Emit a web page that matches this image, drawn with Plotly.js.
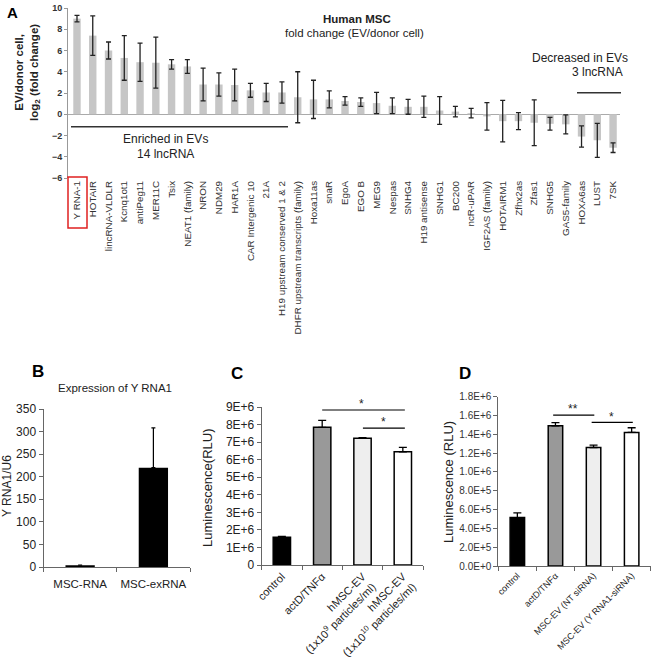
<!DOCTYPE html>
<html><head><meta charset="utf-8">
<script src="https://cdn.plot.ly/plotly-3.0.1.min.js"></script>
<style>html,body{margin:0;padding:0;background:#fff}#chart{width:652px;height:666px}</style>
</head><body><div id="chart"></div>
<script>
// Panel A data
var catsA = ["Y RNA-1","HOTAIR","lincRNA-VLDLR","Kcnq1ot1","antiPeg11","MER11C","Tsix","NEAT1 (family)","NRON","NDM29","HAR1A","CAR Intergenic 10","21A","H19 upstream conserved 1 & 2","DHFR upstream transcripts (family)","Hoxa11as","snaR","EgoA","EGO B","MEG9","Nespas","SNHG4","H19 antisense","SNHG1","BC200","ncR-uPAR","IGF2AS (family)","HOTAIRM1","Zfhx2as","Zfas1","SNHG5","GAS5-family","HOXA6as","LUST","7SK"];
var valsA = [9.0,7.4,6.0,5.3,4.9,4.85,4.7,4.5,2.8,2.8,2.75,2.25,2.05,2.05,1.6,1.4,1.4,1.25,1.15,1.05,0.8,0.7,0.7,0.35,0.25,0.1,-0.2,-0.65,-0.65,-0.8,-0.9,-0.95,-2.1,-2.45,-3.15];
var errA  = [0.3,1.85,0.8,2.1,1.8,2.4,0.45,0.65,1.55,1.1,1.5,0.65,0.85,1.0,2.4,1.8,0.8,0.4,0.4,1.0,0.75,0.7,1.0,1.3,0.5,0.45,1.3,1.95,0.8,2.15,0.6,0.9,1.0,1.6,0.45];
var tickA = [-6,-4,-2,0,2,4,6,8,10];

// Panel B data
var catsB = ["MSC-RNA","MSC-exRNA"];
var valsB = [4,220];
var errB  = [0,88];
var tickB = [0,50,100,150,200,250,300,350];

// Panel C data
var catsC = ["control","actD/TNFα","hMSC-EV<br>(1x10<sup>9</sup> particles/ml)","hMSC-EV<br>(1x10<sup>10</sup> particles/ml)"];
var valsC = [1.58e6,7.84e6,7.22e6,6.45e6];
var errC  = [0.05e6,0.4e6,0.04e6,0.25e6];
var tickC = [0,1e6,2e6,3e6,4e6,5e6,6e6,7e6,8e6,9e6];
var tickTextC = ["0","1E+6","2E+6","3E+6","4E+6","5E+6","6E+6","7E+6","8E+6","9E+6"];

// Panel D data
var catsD = ["control","actD/TNFα","MSC-EV (NT siRNA)","MSC-EV (Y RNA1-siRNA)"];
var valsD = [5.15e5,1.49e6,1.26e6,1.42e6];
var errD  = [0.5e5,0.035e6,0.025e6,0.05e6];
var tickD = [0,2e5,4e5,6e5,8e5,1e6,1.2e6,1.4e6,1.6e6,1.8e6];
var tickTextD = ["0.0E+0","2.0E+5","4.0E+5","6.0E+5","8.0E+5","1.0E+6","1.2E+6","1.4E+6","1.6E+6","1.8E+6"];

var W = 652, H = 666;
function px(x){return x/W;}
function py(y){return 1 - y/H;}
var F = "Arial, 'Liberation Sans', sans-serif";

var traces = [
 {type:'bar', x:catsA, y:valsA, xaxis:'x', yaxis:'y', width:0.47,
  marker:{color:'#c6c6c6'},
  error_y:{type:'data', array:errA, visible:true, color:'#222', thickness:1.3, width:2.5}},
 {type:'bar', x:catsB, y:valsB, xaxis:'x2', yaxis:'y2', width:0.4,
  marker:{color:'#000'},
  error_y:{type:'data', symmetric:false, array:errB, arrayminus:[0,0], visible:true, color:'#000', thickness:1.2, width:2}},
 {type:'bar', x:catsC, y:valsC, xaxis:'x3', yaxis:'y3', width:0.43,
  marker:{color:['#000','#999','#eeeeee','#fff'], line:{color:'#000', width:1.5}},
  error_y:{type:'data', symmetric:false, array:errC, arrayminus:[0,0,0,0], visible:true, color:'#000', thickness:1.3, width:4}},
 {type:'bar', x:catsD, y:valsD, xaxis:'x4', yaxis:'y4', width:0.38,
  marker:{color:['#000','#999','#eeeeee','#fff'], line:{color:'#000', width:1.5}},
  error_y:{type:'data', symmetric:false, array:errD, arrayminus:[0,0,0,0], visible:true, color:'#000', thickness:1.3, width:4}}
];

function ann(x, y, text, size, extra){
  var a = {xref:'paper', yref:'paper', x:px(x), y:py(y), text:text, showarrow:false,
           xanchor:'center', yanchor:'middle', font:{size:size, color:'#222'}};
  if (extra) for (var k in extra) a[k] = extra[k];
  return a;
}

var layout = {
 width:W, height:H, margin:{l:0,r:0,t:0,b:0}, showlegend:false,
 paper_bgcolor:'#fff', plot_bgcolor:'rgba(0,0,0,0)',
 font:{family:F, color:'#222'},
 xaxis:{domain:[px(68),px(620)], anchor:'y', type:'category', range:[-0.57,34.44], showline:false, showgrid:false, zeroline:false,
   ticks:'', tickangle:-90, tickfont:{size:9.8, color:'#333'}, fixedrange:true},
 yaxis:{domain:[py(178),py(8)], anchor:'x', range:[-6,10], tickvals:tickA, showgrid:false, zeroline:true, zerolinecolor:'#aaa', zerolinewidth:1.5,
   showline:true, linecolor:'#999', linewidth:1, ticks:'outside', ticklen:3, tickcolor:'#999', tickfont:{size:9, color:'#333', weight:'bold'}},
 xaxis2:{domain:[px(43.5),px(190)], anchor:'y2', type:'category', range:[-0.5,1.5], showline:true, linecolor:'#666', linewidth:1, showgrid:false,
   ticks:'outside', tickson:'boundaries', ticklen:4, tickcolor:'#666', tickangle:0, ticklabelstandoff:6, tickfont:{size:11.5, color:'#222'}},
 yaxis2:{domain:[py(567),py(409)], anchor:'x2', range:[0,350], tickvals:tickB, showgrid:false, zeroline:false, showline:true, linecolor:'#666', linewidth:1,
   ticks:'outside', ticklen:4, tickcolor:'#666', tickfont:{size:12, color:'#222'}},
 xaxis3:{domain:[px(261.7),px(423)], anchor:'y3', type:'category', range:[-0.5,3.5], showline:true, linecolor:'#666', linewidth:1, showgrid:false,
   ticks:'outside', tickson:'boundaries', ticklen:4, tickcolor:'#666', tickangle:-45, tickfont:{size:11, color:'#222'}},
 yaxis3:{domain:[py(565),py(407)], anchor:'x3', range:[0,9e6], tickvals:tickC, ticktext:tickTextC, showgrid:false, zeroline:false, showline:true, linecolor:'#666', linewidth:1,
   ticks:'outside', ticklen:4, tickcolor:'#666', tickfont:{size:12, color:'#222'}},
 xaxis4:{domain:[px(498.3),px(650.7)], anchor:'y4', type:'category', range:[-0.5,3.5], showline:true, linecolor:'#666', linewidth:1, showgrid:false,
   ticks:'outside', tickson:'boundaries', ticklen:4, tickcolor:'#666', tickangle:-45, tickfont:{size:9, color:'#222'}},
 yaxis4:{domain:[py(566),py(396.7)], anchor:'x4', range:[0,1.8e6], tickvals:tickD, ticktext:tickTextD, showgrid:false, zeroline:false, showline:true, linecolor:'#666', linewidth:1,
   ticks:'outside', ticklen:4, tickcolor:'#666', tickfont:{size:10, color:'#333'}},
 shapes:[
  {type:'line', xref:'paper', yref:'paper', x0:px(71), x1:px(288), y0:py(126.7), y1:py(126.7), line:{color:'#333', width:1.5}},
  {type:'line', xref:'paper', yref:'paper', x0:px(577), x1:px(621), y0:py(92.7), y1:py(92.7), line:{color:'#333', width:1.5}},
  {type:'rect', xref:'paper', yref:'paper', x0:px(68), x1:px(87), y0:py(228), y1:py(177), line:{color:'#e02020', width:1.5}},
  {type:'line', xref:'x3', yref:'y3', x0:1, x1:3.05, y0:8.83e6, y1:8.83e6, line:{color:'#000', width:1.2}},
  {type:'line', xref:'x3', yref:'y3', x0:2.01, x1:3.05, y0:7.8e6, y1:7.8e6, line:{color:'#000', width:1.2}},
  {type:'line', xref:'x4', yref:'y4', x0:0.94, x1:2.02, y0:1.605e6, y1:1.605e6, line:{color:'#000', width:1.2}},
  {type:'line', xref:'x4', yref:'y4', x0:1.95, x1:3.03, y0:1.528e6, y1:1.528e6, line:{color:'#000', width:1.2}}
 ],
 annotations:[
  ann(12, 13, '<b>A</b>', 15, {font:{size:15, color:'#000'}}),
  ann(357, 19, '<b>Human MSC</b>', 11.5),
  ann(354, 33, 'fold change (EV/donor cell)', 11.5),
  ann(27, 72, '<b>EV/donor cell,<br>log<sub>2</sub> (fold change)</b>', 11.5, {textangle:-90}),
  ann(165, 139, 'Enriched in EVs', 12),
  ann(165, 154, '14 lncRNA', 12),
  ann(580, 58, 'Decreased in EVs', 12),
  ann(625, 72, '3 lncRNA', 12, {xanchor:'right'}),
  ann(38, 372, '<b>B</b>', 17, {font:{size:17, color:'#000'}}),
  ann(115, 388, 'Expression of Y RNA1', 11.5),
  ann(7, 486, 'Y RNA1/U6', 12, {textangle:-90}),
  ann(237, 373, '<b>C</b>', 17, {font:{size:17, color:'#000'}}),
  ann(207, 488, 'Luminescence(RLU)', 13, {textangle:-90}),
  ann(465, 373, '<b>D</b>', 17, {font:{size:17, color:'#000'}}),
  ann(448, 482, 'Luminescence (RLU)', 13, {textangle:-90}),
  ann(361.7, 404, '*', 12),
  ann(383, 422, '*', 12),
  ann(573, 409, '**', 12),
  ann(611.7, 417, '*', 12)
 ]
};
Plotly.newPlot('chart', traces, layout, {displayModeBar:false, staticPlot:true});
</script></body></html>
